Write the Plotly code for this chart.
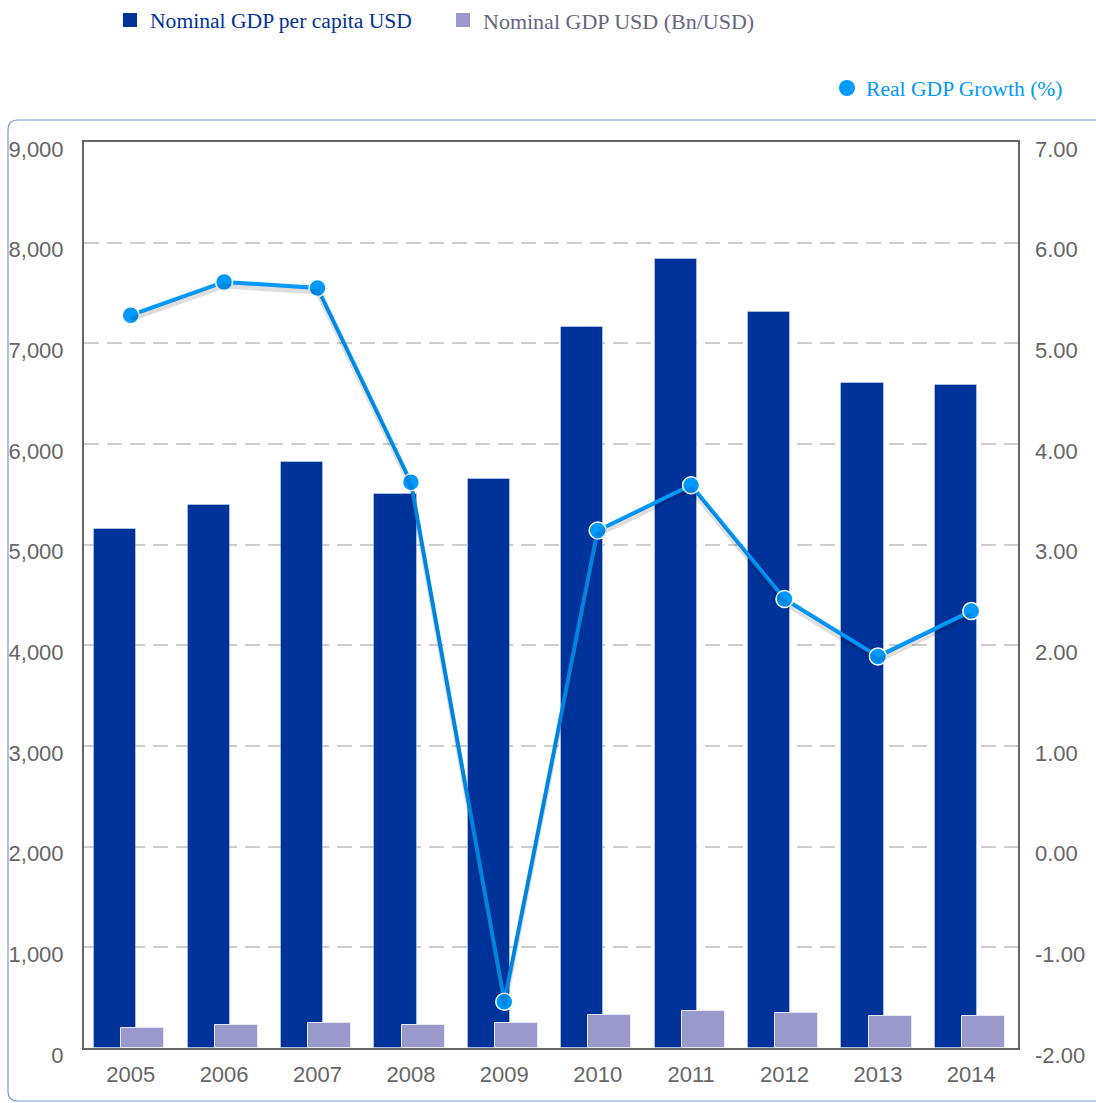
import plotly.graph_objects as go

years = ["2005", "2006", "2007", "2008", "2009", "2010", "2011", "2012", "2013", "2014"]
gdp_per_capita = [5160, 5390, 5820, 5500, 5650, 7160, 7835, 7310, 6605, 6585]
gdp_bn = [200, 228, 248, 228, 248, 328, 367, 348, 318, 318]
real_growth = [5.28, 5.61, 5.55, 3.62, -1.54, 3.14, 3.59, 2.46, 1.89, 2.34]
left_ticks = [0, 1000, 2000, 3000, 4000, 5000, 6000, 7000, 8000, 9000]
right_ticks = [-2, -1, 0, 1, 2, 3, 4, 5, 6, 7]

W, H = 1096, 1103
L, R, T, B = 84, 78, 142, 55
PW, PH = W - L - R, H - T - B

def px2x(px):
    return (px - L) / PW

def px2y(py):
    return (H - B - py) / PH

DARK = "#003399"
LIGHT = "#9999cc"
LINE = "#0099ff"
TICK_FONT = dict(family="Liberation Sans, Arial, sans-serif", size=22, color="#666666")
LEG_FONT = "Liberation Serif, Times New Roman, serif"

fig = go.Figure()
fig.add_trace(go.Bar(
    x=years, y=gdp_per_capita, name="Nominal GDP per capita USD",
    marker=dict(color=DARK, line=dict(color="rgba(255,255,255,0.35)", width=1)),
    width=0.45, offset=-0.39, yaxis="y", showlegend=False,
))
fig.add_trace(go.Bar(
    x=years, y=gdp_bn, name="Nominal GDP USD (Bn/USD)",
    marker=dict(color=LIGHT, line=dict(color="#e8e8f4", width=1)),
    width=0.46, offset=-0.10, yaxis="y", showlegend=False,
))
# soft shadow under the line
fig.add_trace(go.Scatter(
    x=years, y=real_growth, mode="lines", yaxis="y3", xaxis="x",
    line=dict(color="rgba(0,0,0,0.13)", width=5), hoverinfo="skip", showlegend=False,
))
fig.add_trace(go.Scatter(
    x=years, y=real_growth, name="Real GDP Growth (%)", mode="lines+markers",
    yaxis="y2",
    line=dict(color=LINE, width=4),
    marker=dict(color=LINE, size=17, line=dict(color="white", width=1.5)),
    showlegend=False,
))

fig.update_layout(
    width=W, height=H,
    margin=dict(l=L, r=R, t=T, b=B, pad=0, autoexpand=False),
    paper_bgcolor="white", plot_bgcolor="white",
    barmode="overlay", bargap=0,
    xaxis=dict(
        type="category", range=[-0.5, 9.5], showgrid=False, automargin=False,
        showline=True, linecolor="#666666", linewidth=2, mirror=True,
        ticks="", tickfont=TICK_FONT, ticklabelstandoff=6,
    ),
    yaxis=dict(
        range=[0, 9000], tickvals=left_ticks, automargin=False,
        ticktext=[f"{v:,}" for v in left_ticks], showgrid=True,
        gridcolor="#cccccc", gridwidth=2, griddash="15px,8px",
        showline=True, linecolor="#666666", linewidth=2, mirror=True,
        ticks="", tickfont=TICK_FONT, ticklabelstandoff=14, ticklabelshift=7,
        zeroline=False,
    ),
    yaxis2=dict(
        range=[-2, 7], tickvals=right_ticks, automargin=False,
        ticktext=[f"{v:.2f}" for v in right_ticks], overlaying="y", side="right",
        showgrid=False, showline=False, zeroline=False,
        ticks="", tickfont=TICK_FONT, ticklabelstandoff=16, ticklabelshift=7,
    ),
    yaxis3=dict(range=[-1.96, 7.04], overlaying="y", visible=False, automargin=False),
    showlegend=False,
)

shapes = []
# outer rounded border
x0, y0 = px2x(8), px2y(120)
x1, y1 = px2x(1110), px2y(1101)
rx, ry = 10 / PW, 10 / PH
path = (f"M {x1},{y0} L {x0+rx},{y0} Q {x0},{y0} {x0},{y0-ry} "
        f"L {x0},{y1+ry} Q {x0},{y1} {x0+rx},{y1} L {x1},{y1}")
shapes.append(dict(type="path", xref="paper", yref="paper", path=path,
                   line=dict(color="#7b9bd1", width=1.2), layer="below"))
# legend markers
shapes.append(dict(type="rect", xref="paper", yref="paper",
                   x0=px2x(123), x1=px2x(137), y0=px2y(27), y1=px2y(13),
                   fillcolor=DARK, line=dict(width=0)))
shapes.append(dict(type="rect", xref="paper", yref="paper",
                   x0=px2x(456), x1=px2x(470), y0=px2y(27), y1=px2y(13),
                   fillcolor=LIGHT, line=dict(width=0)))
shapes.append(dict(type="circle", xref="paper", yref="paper",
                   x0=px2x(839), x1=px2x(855), y0=px2y(96), y1=px2y(80),
                   fillcolor=LINE, line=dict(width=0)))
fig.update_layout(shapes=shapes)

annotations = [
    dict(text="Nominal GDP per capita USD", x=px2x(148), y=px2y(21),
         font=dict(family=LEG_FONT, size=21.6, color=DARK)),
    dict(text="Nominal GDP USD (Bn/USD)", x=px2x(481), y=px2y(21),
         font=dict(family=LEG_FONT, size=22, color="#666680")),
    dict(text="Real GDP Growth (%)", x=px2x(864), y=px2y(89),
         font=dict(family=LEG_FONT, size=21.6, color=LINE)),
]
for a in annotations:
    a.update(xref="paper", yref="paper", xanchor="left", yanchor="middle", showarrow=False)
fig.update_layout(annotations=annotations)

fig.write_html(
    "out.html",
    config={"displayModeBar": False},
    post_script="document.body.style.margin='0';document.body.style.overflow='hidden';",
)
